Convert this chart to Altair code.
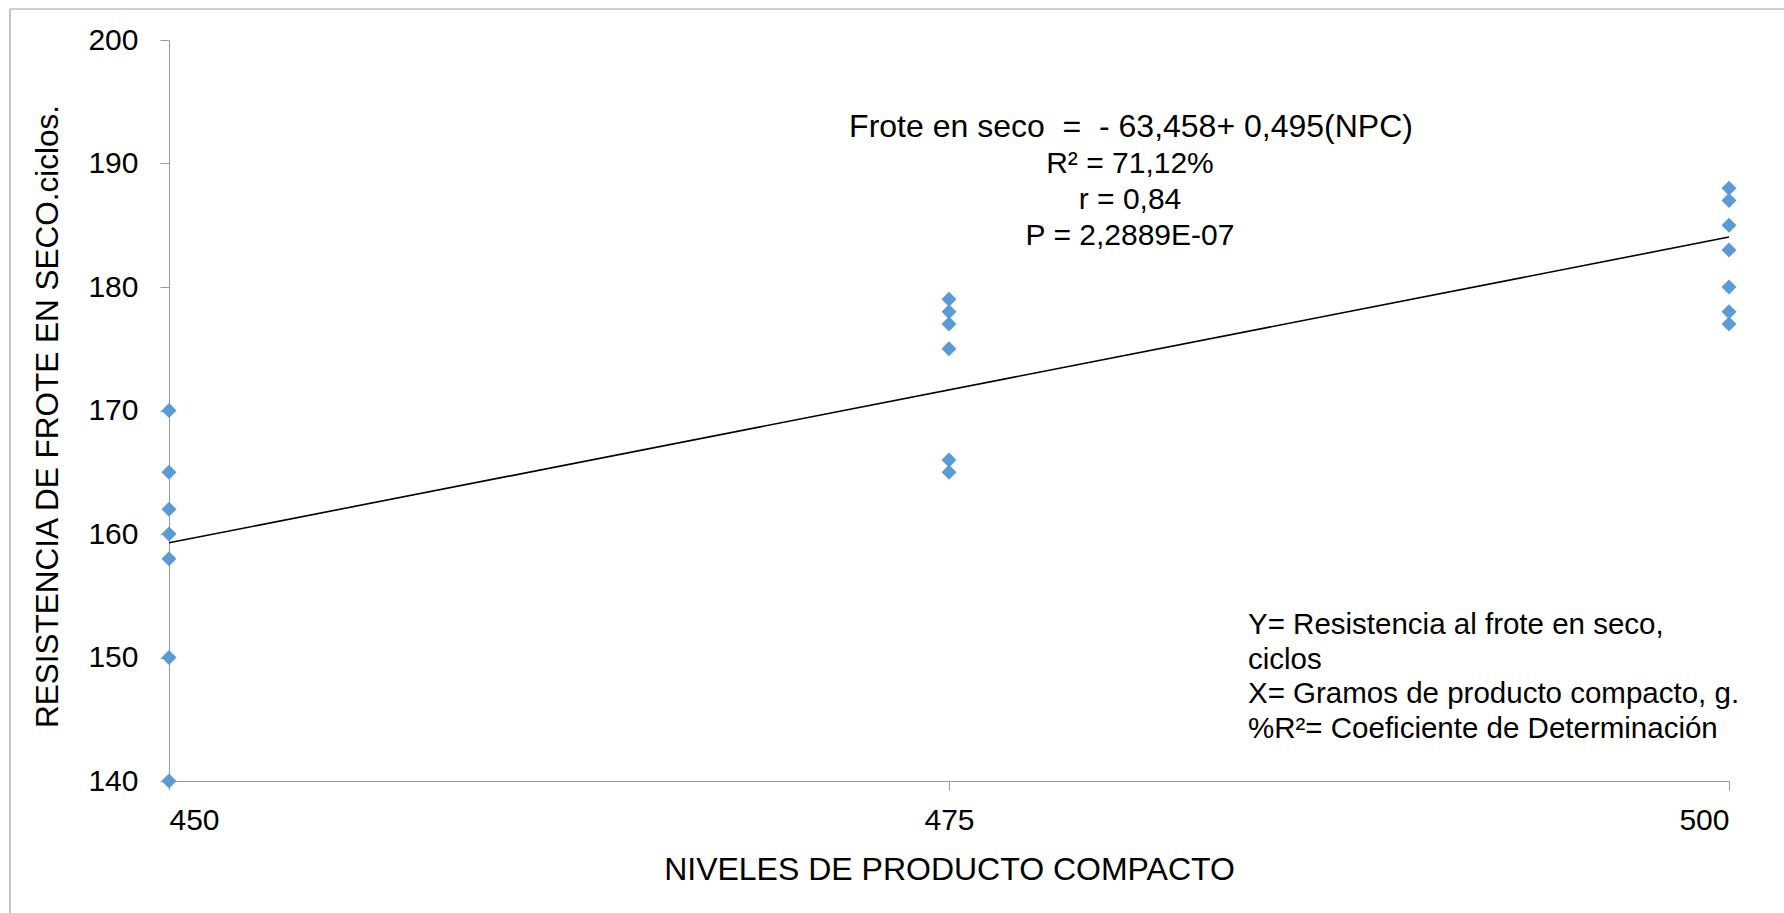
import altair as alt
import pandas as pd

# Data
npc_450 = [170, 165, 162, 160, 158, 150, 140]
npc_475 = [179, 178, 177, 175, 166, 165]
npc_500 = [188, 187, 185, 183, 180, 178, 177]
x_levels = [450, 475, 500]
intercept = -63.458
slope = 0.495

NB = "\u00a0"
equation_title = "Frote en seco" + NB * 2 + "=" + NB * 2 + "- 63,458+ 0,495(NPC)"
stats_lines = ["R\u00b2 = 71,12%", "r = 0,84", "P = 2,2889E-07"]
legend_lines = ["Y= Resistencia al frote en seco,", "ciclos", "X= Gramos de producto compacto, g.", "%R\u00b2= Coeficiente de Determinación"]

rows = []
for lvl, vals in zip(x_levels, [npc_450, npc_475, npc_500]):
    for v in vals:
        rows.append({"x": lvl, "y": v})
pts = pd.DataFrame(rows)
line_df = pd.DataFrame({"x": [x_levels[0], x_levels[-1]]})
line_df["y"] = intercept + slope * line_df["x"]

FONT = "Liberation Sans"
AXCOL = "#9a9a9a"

xs = alt.Scale(domain=[450, 500], nice=False, zero=False)
ys = alt.Scale(domain=[140, 200], nice=False, zero=False)

x_axis = alt.Axis(values=x_levels, title="NIVELES DE PRODUCTO COMPACTO", grid=False,
                  domainColor=AXCOL, tickColor=AXCOL, tickSize=9, labelFontSize=30,
                  labelFont=FONT, labelColor="black", labelPadding=15,
                  titleFont=FONT, titleFontSize=32, titleFontWeight="normal",
                  titleColor="black", titleY=98, titleBaseline="alphabetic")
y_axis = alt.Axis(values=[140, 150, 160, 170, 180, 190, 200], title="RESISTENCIA DE FROTE EN SECO.ciclos.",
                  grid=False, domainColor=AXCOL, tickColor=AXCOL, tickSize=9, labelFontSize=30,
                  labelFont=FONT, labelColor="black", labelPadding=22,
                  titleFont=FONT, titleFontSize=31.5, titleFontWeight="normal",
                  titleColor="black", titleX=-112, titleY=376, titleBaseline="alphabetic")

points = alt.Chart(pts).mark_point(shape="diamond", filled=True, size=225, color="#5B9BD5", opacity=1).encode(
    x=alt.X("x:Q", scale=xs, axis=x_axis),
    y=alt.Y("y:Q", scale=ys, axis=y_axis),
)

trend = alt.Chart(line_df).mark_line(color="black", strokeWidth=1.6).encode(
    x=alt.X("x:Q", scale=xs), y=alt.Y("y:Q", scale=ys)
)

eq1 = alt.Chart(pd.DataFrame({"t": [equation_title]})).mark_text(
    font=FONT, fontSize=32, align="center", baseline="alphabetic", color="black"
).encode(text="t:N", x=alt.value(962), y=alt.value(97))

eq = alt.Chart(pd.DataFrame({"t": ["\n".join(stats_lines)]})).mark_text(
    font=FONT, fontSize=30, align="center", baseline="alphabetic", lineBreak="\n",
    lineHeight=36, color="black"
).encode(text="t:N", x=alt.value(961), y=alt.value(133))

leg = alt.Chart(pd.DataFrame({"t": ["\n".join(legend_lines)]})).mark_text(
    font=FONT, fontSize=29.5, align="left", baseline="alphabetic", lineBreak="\n",
    lineHeight=34.5, color="black"
).encode(text="t:N", x=alt.value(1079), y=alt.value(594))

border_v = alt.Chart(pd.DataFrame({"a": [0]})).mark_rule(color="#a0a0a0", strokeWidth=1.2).encode(
    x=alt.value(-159), y=alt.value(-31), y2=alt.value(880))
border_h = alt.Chart(pd.DataFrame({"a": [0]})).mark_rule(color="#a0a0a0", strokeWidth=1.2).encode(
    x=alt.value(-159), x2=alt.value(1620), y=alt.value(-31))

chart = alt.layer(border_v, border_h, trend, points, eq1, eq, leg).properties(
    width=1560, height=741,
    autosize=alt.AutoSizeParams(type="none"),
    padding={"left": 169, "top": 40, "right": 55, "bottom": 132},
    background="white",
).configure_view(stroke=None)

chart.save("out.html", embed_options={"renderer": "svg", "actions": False})
